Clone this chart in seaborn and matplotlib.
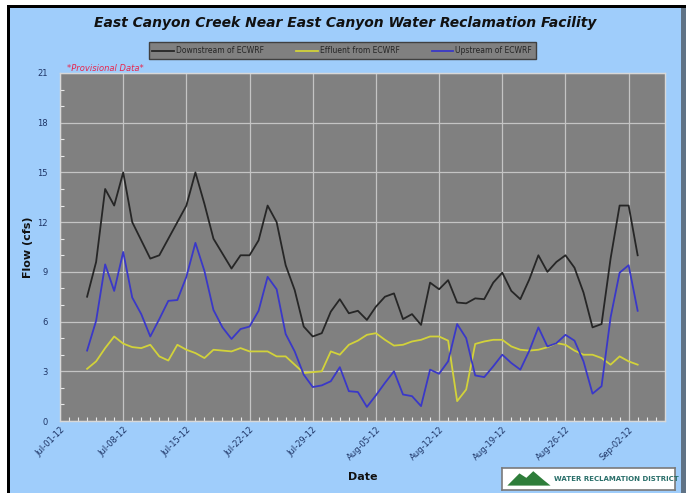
import numpy as np
import pandas as pd
import matplotlib
matplotlib.use("Agg")
import matplotlib.pyplot as plt
import matplotlib.dates as mdates
from matplotlib.patches import Rectangle, Polygon
from matplotlib.lines import Line2D
import seaborn as sns

# ==================== DATA ====================

dates = pd.date_range("2012-07-04", "2012-09-03", freq="D")

downstream = [7.5, 9.6, 14.0, 13.0, 15.0, 12.0, 10.9, 9.8, 10.0, 11.0,
              12.0, 13.0, 15.0, 13.1, 11.0, 10.1, 9.2, 10.0, 10.0, 10.9,
              13.0, 12.0, 9.4, 7.9, 5.7, 5.1, 5.3, 6.6, 7.35, 6.5,
              6.65, 6.1, 6.9, 7.5, 7.7, 6.15, 6.45, 5.8, 8.35, 7.95,
              8.5, 7.15, 7.1, 7.4, 7.35, 8.35, 8.95, 7.85, 7.35, 8.55,
              10.0, 9.0, 9.6, 10.0, 9.25, 7.75, 5.65, 5.85, 9.8, 13.0,
              13.0, 10.0]

effluent = [3.15, 3.6, 4.4, 5.1, 4.67, 4.46, 4.4, 4.6, 3.9, 3.65,
            4.6, 4.3, 4.1, 3.8, 4.3, 4.25, 4.2, 4.4, 4.2, 4.2,
            4.2, 3.9, 3.9, 3.4, 2.9, 2.95, 3.0, 4.2, 4.0, 4.6,
            4.85, 5.2, 5.3, 4.9, 4.55, 4.6, 4.8, 4.9, 5.1, 5.1,
            4.85, 1.2, 1.9, 4.65, 4.8, 4.9, 4.9, 4.5, 4.3, 4.25,
            4.3, 4.45, 4.7, 4.6, 4.25, 4.0, 4.0, 3.8, 3.4, 3.9,
            3.6, 3.4]

upstream = [4.25, 6.05, 9.45, 7.85, 10.2, 7.45, 6.45, 5.1, 6.15, 7.25,
            7.3, 8.7, 10.75, 9.05, 6.7, 5.65, 4.95, 5.55, 5.7, 6.65,
            8.7, 7.95, 5.25, 4.2, 2.8, 2.05, 2.15, 2.4, 3.25, 1.8,
            1.75, 0.85, 1.55, 2.3, 3.0, 1.6, 1.5, 0.9, 3.1, 2.85,
            3.6, 5.85, 5.0, 2.75, 2.65, 3.3, 4.0, 3.5, 3.1, 4.25,
            5.65, 4.5, 4.7, 5.2, 4.85, 3.6, 1.65, 2.1, 6.25, 8.95,
            9.4, 6.65]

series_names = ["Downstream of ECWRF", "Effluent from ECWRF", "Upstream of ECWRF"]
series_colors = ["#262626", "#D2D23A", "#3A38C8"]
y_ticks = [0, 3, 6, 9, 12, 15, 18, 21]

df = pd.DataFrame({
    "Date": np.tile(dates, 3),
    "Flow": downstream + effluent + upstream,
    "Series": np.repeat(series_names, len(dates)),
})

# ==================== FIGURE ====================

fig = plt.figure(figsize=(6.86, 4.93), dpi=100, facecolor="white")

# outer frame like the screenshot
fig.patches.append(Rectangle((0.0102, 0), 0.99, 0.9899, transform=fig.transFigure,
                             facecolor="black", edgecolor="none", zorder=-3))
fig.patches.append(Rectangle((0.0146, 0), 0.9781, 0.9838, transform=fig.transFigure,
                             facecolor="#9FCDFB", edgecolor="none", zorder=-2))
fig.patches.append(Rectangle((0.9927, 0), 0.0073, 0.9838, transform=fig.transFigure,
                             facecolor="#5F7285", edgecolor="none", zorder=-2))

ax = fig.add_axes([0.0875, 0.146, 0.8815, 0.706])
ax.set_facecolor("#808080")

sns.lineplot(data=df, x="Date", y="Flow", hue="Series", palette=series_colors,
             hue_order=series_names, linewidth=1.3, legend=False, ax=ax)

ax.set_xlim(pd.Timestamp("2012-07-01"), pd.Timestamp("2012-09-06"))
ax.set_ylim(0, 21)
ax.set_yticks(y_ticks)
ax.xaxis.set_major_locator(mdates.WeekdayLocator(byweekday=mdates.SU))
ax.xaxis.set_minor_locator(mdates.DayLocator())
ax.xaxis.set_major_formatter(mdates.DateFormatter("%b-%d-%y"))
ax.yaxis.set_minor_locator(matplotlib.ticker.MultipleLocator(1))

ax.grid(True, which="major", color="#C4C4C4", linewidth=0.9)
ax.set_axisbelow(True)
for s in ax.spines.values():
    s.set_color("#D8D8D8")
    s.set_linewidth(1.0)

ax.tick_params(axis="both", which="major", length=0, labelsize=6,
               labelcolor="#1F3566")
ax.tick_params(axis="y", which="major", pad=9)
ax.tick_params(axis="x", which="major", pad=3)
ax.tick_params(axis="both", which="minor", direction="in", length=3,
               color="#E8E8E8", width=0.8)
plt.setp(ax.get_xticklabels(), rotation=45, ha="right", rotation_mode="anchor")

ax.set_xlabel("Date", fontsize=8, fontweight="bold", color="#111111", labelpad=7)
ax.set_ylabel("Flow (cfs)", fontsize=8, fontweight="bold", color="#111111", labelpad=3)

# ==================== TEXT & LEGEND ====================

fig.text(0.503, 0.953, "East Canyon Creek Near East Canyon Water Reclamation Facility",
         ha="center", va="center", fontsize=10, fontweight="bold",
         fontstyle="italic", color="#111111")
fig.text(0.097, 0.862, "*Provisional Data*", ha="left", va="center",
         fontsize=6, fontstyle="italic", color="#E8264E")

handles = [Line2D([], [], color=c, linewidth=1.3) for c in series_colors]
leg = fig.legend(handles, series_names, loc="center", bbox_to_anchor=(0.499, 0.897),
                 ncol=3, fontsize=5.5, frameon=True, fancybox=False,
                 handlelength=2.8, columnspacing=4.2, borderpad=0.5,
                 handletextpad=0.3)
leg.get_frame().set_facecolor("#808080")
leg.get_frame().set_edgecolor("#404040")
leg.get_frame().set_alpha(1)
for t in leg.get_texts():
    t.set_color("#262626")

# logo box
logo = fig.add_axes([0.732, 0.006, 0.252, 0.045])
logo.set_xlim(0, 1)
logo.set_ylim(0, 1)
logo.set_xticks([])
logo.set_yticks([])
logo.set_facecolor("white")
for s in logo.spines.values():
    s.set_color("#7A7A7A")
    s.set_linewidth(1.2)
logo.add_patch(Polygon([[0.03, 0.2], [0.1, 0.75], [0.14, 0.55], [0.18, 0.85],
                        [0.24, 0.45], [0.28, 0.2]], closed=True,
                       facecolor="#2E7D3A", edgecolor="none"))
logo.text(0.3, 0.5, "WATER RECLAMATION DISTRICT", ha="left", va="center",
          fontsize=5, fontweight="bold", color="#2A6F6A")

fig.savefig("out.png", dpi=100)
